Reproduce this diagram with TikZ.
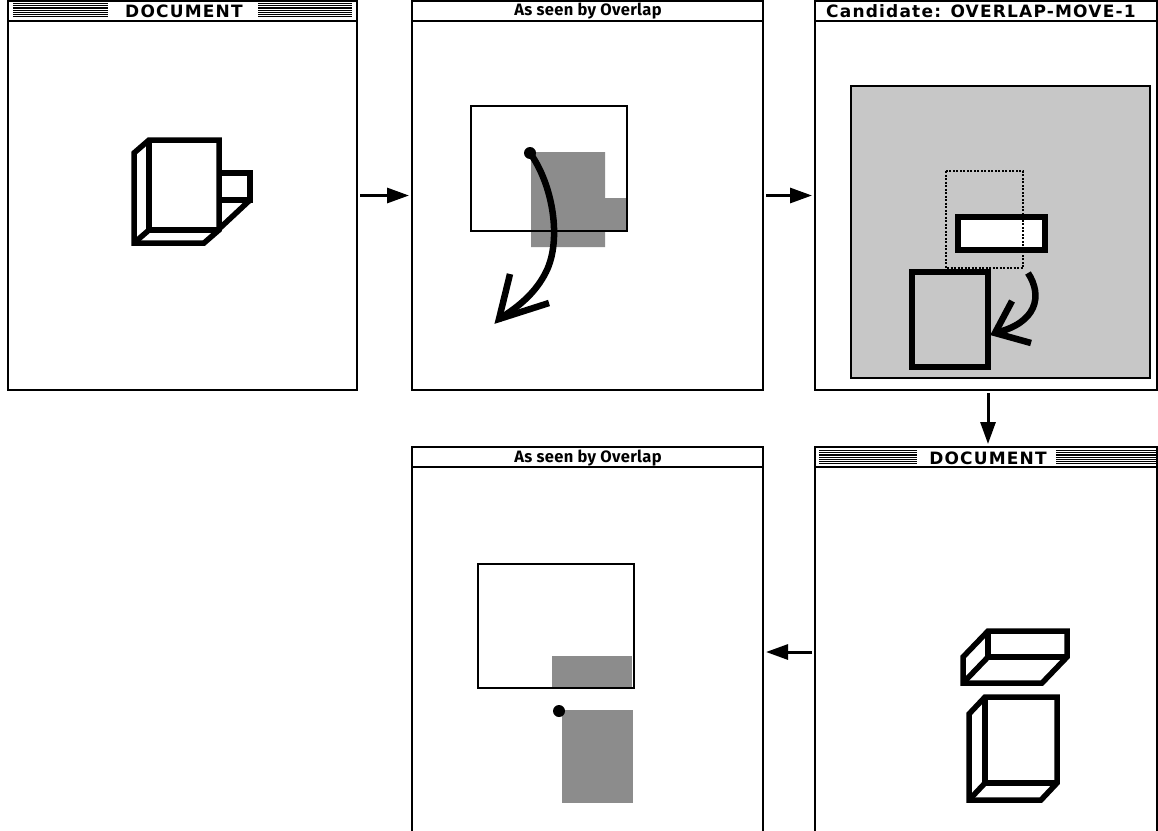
\documentclass[tikz,border=0pt]{standalone}
\usepackage{fontspec}
\newfontfamily\capsfont{DejaVu Sans}[LetterSpace=7]
\newfontfamily\mixedfont{Fira Sans}[LetterSpace=2]
\usetikzlibrary{arrows.meta,calc}

\tikzset{
  panel/.style={draw, line width=1.6pt, inner sep=0pt, outer sep=0pt,
                anchor=north west, fill=white},
  capstitle/.style={font=\capsfont\bfseries\fontsize{17}{17}\selectfont,
                inner sep=0pt},
  mixedtitle/.style={font=\mixedfont\bfseries\fontsize{16.5}{16.5}\selectfont,
                inner sep=0pt},
  titlerule/.style={line width=1.6pt},
  stripe/.style={line width=1.1pt},
  heavy/.style={line width=5.5pt, line join=miter},
  stroke/.style={line width=6.5pt, line join=miter},
  frame/.style={draw, line width=1.5pt},
  dense/.style={fill=black!45},
  sparse/.style={fill=black!22},
  ghost/.style={line width=1.3pt, dash pattern=on 2pt off 1.5pt},
  link/.style={line width=3pt, -{Triangle[length=22pt,width=15pt]},
               shorten <=3pt, shorten >=3pt},
}

\begin{document}
\begin{tikzpicture}[x=1pt, y=-1pt]
\useasboundingbox (0,0) rectangle (1158,830);

% ---------- window frames ----------
\node[panel, minimum width=349pt, minimum height=389pt] (p1) at (8,1) {};
\node[panel, minimum width=351pt, minimum height=389pt] (p2) at (412,1) {};
\node[panel, minimum width=342pt, minimum height=389pt] (p3) at (815,1) {};
\node[panel, minimum width=351pt, minimum height=410pt] (p4) at (412,447) {};
\node[panel, minimum width=342pt, minimum height=410pt] (p5) at (815,447) {};

% title bar rules
\foreach \p in {p1,p2,p3,p4,p5}
  \draw[titlerule] ([yshift=-20pt]\p.north west) -- ([yshift=-20pt]\p.north east);

% ---------- titles ----------
\node[capstitle] (t1) at (184,11) {DOCUMENT};
\node[mixedtitle] (t2) at (588,11) {As seen by Overlap};
\node[capstitle, anchor=west] (t3) at (826,11) {Candidate: OVERLAP-MOVE-1};
\node[mixedtitle] (t4) at (588,458) {As seen by Overlap};
\node[capstitle] (t5) at (988,458) {DOCUMENT};

% striped bars beside the DOCUMENT titles
\foreach \k in {0,...,6}{
  \draw[stripe] (13,3.6+2.2*\k) -- (108,3.6+2.2*\k);
  \draw[stripe] (258,3.6+2.2*\k) -- (352,3.6+2.2*\k);
  \draw[stripe] (819,450.6+2.2*\k) -- (917,450.6+2.2*\k);
  \draw[stripe] (1056,450.6+2.2*\k) -- (1158,450.6+2.2*\k);
}

% ---------- panel 1: original scene ----------
\draw[heavy] (149,140) -- (219,140) -- (219,230) -- (204,243) -- (134,243)
             -- (134,153) -- cycle;
\draw[heavy] (149,140) -- (149,230) -- (219,230);
\draw[heavy] (149,230) -- (134,243);
\draw[heavy] (219,173) -- (250,173) -- (250,200) -- (219,200);
\draw[heavy] (250,200) -- (220,228);

% ---------- panel 2: overlap view ----------
\fill[dense] (531,152) -- (605,152) -- (605,198) -- (627,198) -- (627,231)
             -- (605,231) -- (605,247) -- (531,247) -- cycle;
\draw[frame] (471,106) rectangle (627,231);
\coordinate (a2s) at (530,153);
\coordinate (a2t) at (499,319);
\draw[stroke] (a2s) .. controls (553,185) and (562,240) .. (546,272)
             .. controls (536,292) and (520,306) .. (a2t);
\draw[stroke] (510,274) -- (a2t) -- (549,303);
\fill (a2s) circle (6);

% ---------- panel 3: candidate move ----------
\fill[sparse] (851,86) rectangle (1150,378);
\draw[line width=1.2pt] (851,86) rectangle (1150,378);
\draw[heavy, fill=white] (958,217) rectangle (1045,250);
\draw[ghost] (946,171) rectangle (1023,268);
\draw[heavy] (912,272) rectangle (988,367);
\coordinate (a3s) at (1028,273);
\coordinate (a3t) at (995,333);
\draw[stroke] (a3s) .. controls (1043,296) and (1037,323) .. (a3t);
\draw[stroke] (1012,301) -- (a3t) -- (1031,343);

% ---------- panel 5: resulting scene ----------
\draw[heavy] (988,631) -- (1067,631) -- (1067,657) -- (1042,683) -- (963,683)
             -- (963,657) -- cycle;
\draw[heavy] (988,631) -- (988,657) -- (1067,657);
\draw[heavy] (988,657) -- (963,683);
\draw[heavy] (985,697) -- (1057,697) -- (1057,783) -- (1041,800) -- (969,800)
             -- (969,714) -- cycle;
\draw[heavy] (985,697) -- (985,783) -- (1057,783);
\draw[heavy] (985,783) -- (969,800);

% ---------- panel 4: overlap view after the move ----------
\fill[dense] (552,656) rectangle (632,687);
\draw[frame] (478,564) rectangle (634,688);
\fill[dense] (562,710) rectangle (633,803);
\fill (559,711) circle (6);

% ---------- flow between windows ----------
\draw[link] (p1.east) -- (p2.west);
\draw[link] (p2.east) -- (p3.west);
\draw[link] ([xshift=2pt]p3.south) -- ([xshift=2pt]p5.north);
\draw[link] (p5.west) -- (p4.east);
\end{tikzpicture}
\end{document}
